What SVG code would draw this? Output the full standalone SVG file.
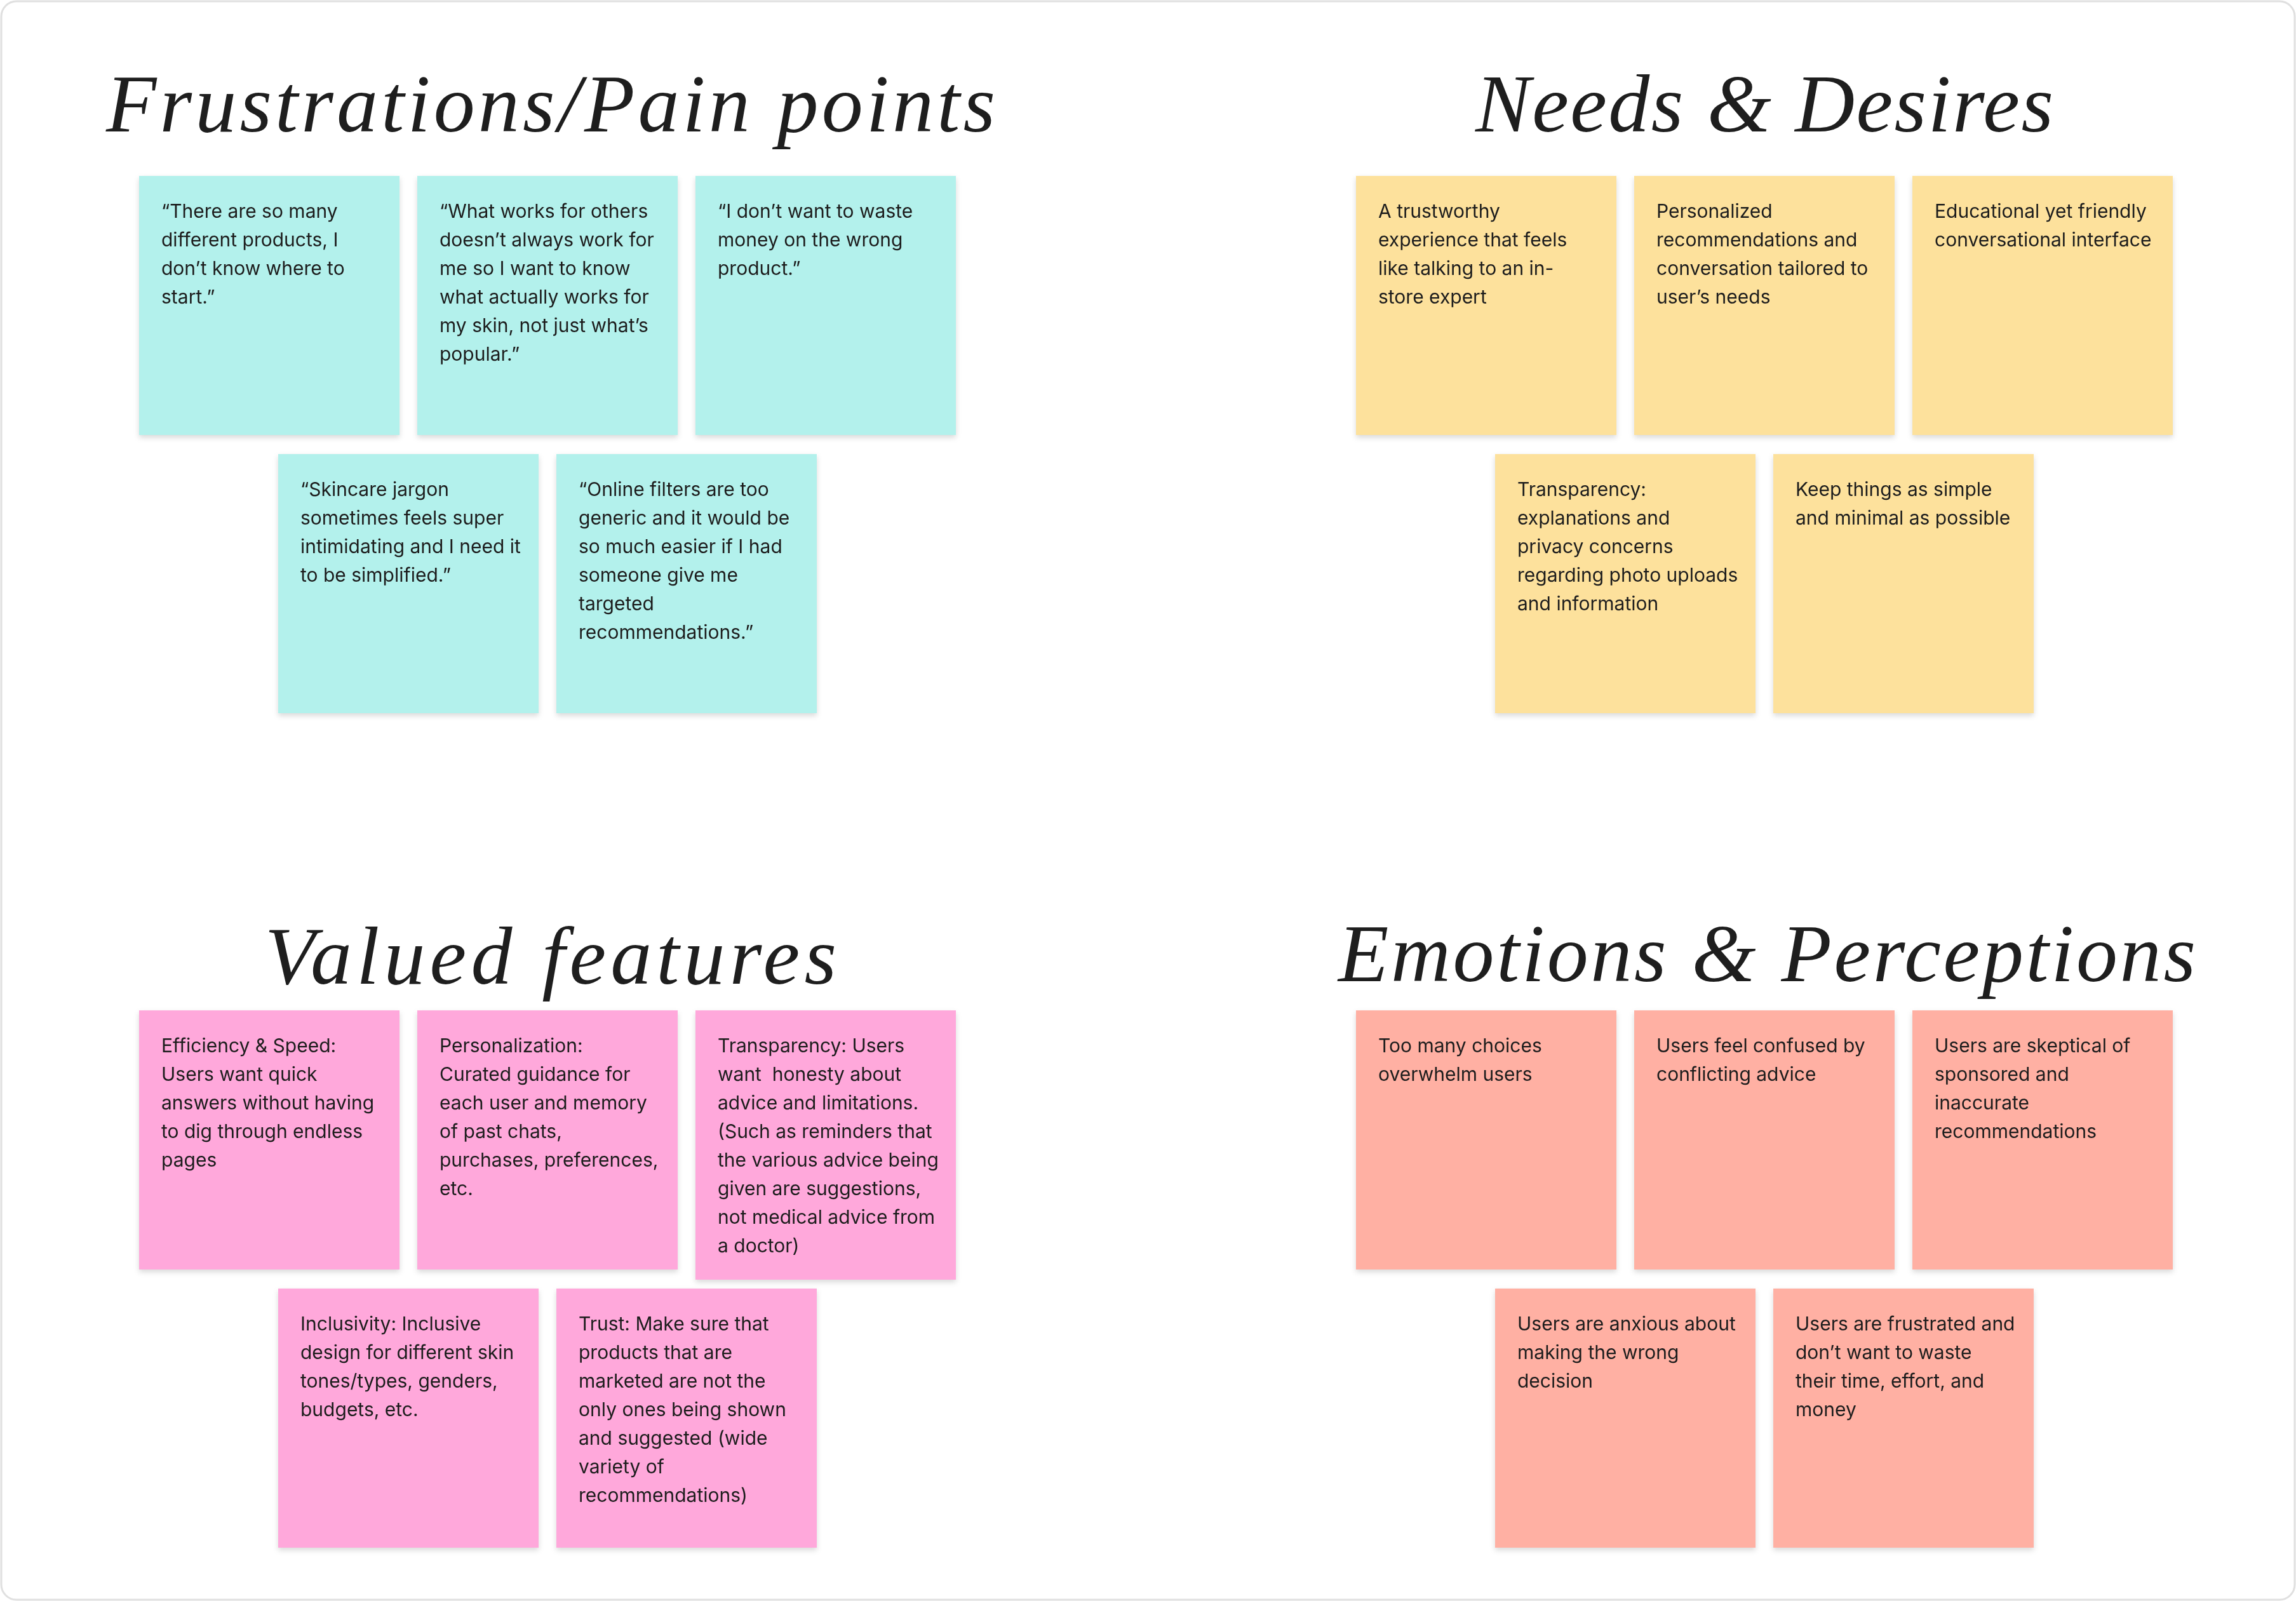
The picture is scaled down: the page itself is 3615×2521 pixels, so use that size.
<svg xmlns="http://www.w3.org/2000/svg" width="3615" height="2521" viewBox="0 0 3615 2521">
<style>
.t{font-family:Inter,"Noto Sans",sans-serif;font-size:30px;fill:#1e1e1e}
.h{font-family:"Liberation Serif",serif;font-style:italic;font-size:130px;fill:#1e1e1e}
.c{fill:#b3f1ec}.y{fill:#fde19c}.p{fill:#ffa8db}.s{fill:#ffb0a3}
</style>
<defs><filter id="sh" x="-5%" y="-5%" width="110%" height="115%"><feDropShadow dx="0" dy="4" stdDeviation="4" flood-color="#000" flood-opacity="0.15"/></filter></defs>
<rect x="2" y="2" width="3611" height="2517" rx="24" fill="#fff" stroke="#e0e0e0" stroke-width="3"/>
<text class="h" x="867" y="207" text-anchor="middle" textLength="1400">Frustrations/Pain points</text>
<text class="h" x="2778" y="207" text-anchor="middle" textLength="910">Needs &amp; Desires</text>
<text class="h" x="867" y="1549" text-anchor="middle" textLength="900">Valued features</text>
<text class="h" x="2782" y="1545" text-anchor="middle" textLength="1350">Emotions &amp; Perceptions</text>
<g filter="url(#sh)">
<g id="f1"><rect class="c" x="219" y="277" width="410" height="408"/><text class="t" x="254" y="343"><tspan x="254">“There are so many</tspan><tspan x="254" dy="45">different products, I</tspan><tspan x="254" dy="45">don’t know where to</tspan><tspan x="254" dy="45">start.”</tspan></text></g>
<g id="f2"><rect class="c" x="657" y="277" width="410" height="408"/><text class="t" x="692" y="343"><tspan x="692">“What works for others</tspan><tspan x="692" dy="45">doesn’t always work for</tspan><tspan x="692" dy="45">me so I want to know</tspan><tspan x="692" dy="45">what actually works for</tspan><tspan x="692" dy="45">my skin, not just what’s</tspan><tspan x="692" dy="45">popular.”</tspan></text></g>
<g id="f3"><rect class="c" x="1095" y="277" width="410" height="408"/><text class="t" x="1130" y="343"><tspan x="1130">“I don’t want to waste</tspan><tspan x="1130" dy="45">money on the wrong</tspan><tspan x="1130" dy="45">product.”</tspan></text></g>
<g id="f4"><rect class="c" x="438" y="715" width="410" height="408"/><text class="t" x="473" y="781"><tspan x="473">“Skincare jargon</tspan><tspan x="473" dy="45">sometimes feels super</tspan><tspan x="473" dy="45">intimidating and I need it</tspan><tspan x="473" dy="45">to be simplified.”</tspan></text></g>
<g id="f5"><rect class="c" x="876" y="715" width="410" height="408"/><text class="t" x="911" y="781"><tspan x="911">“Online filters are too</tspan><tspan x="911" dy="45">generic and it would be</tspan><tspan x="911" dy="45">so much easier if I had</tspan><tspan x="911" dy="45">someone give me</tspan><tspan x="911" dy="45">targeted</tspan><tspan x="911" dy="45">recommendations.”</tspan></text></g>
<g id="n1"><rect class="y" x="2135" y="277" width="410" height="408"/><text class="t" x="2170" y="343"><tspan x="2170">A trustworthy</tspan><tspan x="2170" dy="45">experience that feels</tspan><tspan x="2170" dy="45">like talking to an in-</tspan><tspan x="2170" dy="45">store expert</tspan></text></g>
<g id="n2"><rect class="y" x="2573" y="277" width="410" height="408"/><text class="t" x="2608" y="343"><tspan x="2608">Personalized</tspan><tspan x="2608" dy="45">recommendations and</tspan><tspan x="2608" dy="45">conversation tailored to</tspan><tspan x="2608" dy="45">user’s needs</tspan></text></g>
<g id="n3"><rect class="y" x="3011" y="277" width="410" height="408"/><text class="t" x="3046" y="343"><tspan x="3046">Educational yet friendly</tspan><tspan x="3046" dy="45">conversational interface</tspan></text></g>
<g id="n4"><rect class="y" x="2354" y="715" width="410" height="408"/><text class="t" x="2389" y="781"><tspan x="2389">Transparency:</tspan><tspan x="2389" dy="45">explanations and</tspan><tspan x="2389" dy="45">privacy concerns</tspan><tspan x="2389" dy="45">regarding photo uploads</tspan><tspan x="2389" dy="45">and information</tspan></text></g>
<g id="n5"><rect class="y" x="2792" y="715" width="410" height="408"/><text class="t" x="2827" y="781"><tspan x="2827">Keep things as simple</tspan><tspan x="2827" dy="45">and minimal as possible</tspan></text></g>
<g id="v1"><rect class="p" x="219" y="1591" width="410" height="408"/><text class="t" x="254" y="1657"><tspan x="254">Efficiency &amp; Speed:</tspan><tspan x="254" dy="45">Users want quick</tspan><tspan x="254" dy="45">answers without having</tspan><tspan x="254" dy="45">to dig through endless</tspan><tspan x="254" dy="45">pages</tspan></text></g>
<g id="v2"><rect class="p" x="657" y="1591" width="410" height="408"/><text class="t" x="692" y="1657"><tspan x="692">Personalization:</tspan><tspan x="692" dy="45">Curated guidance for</tspan><tspan x="692" dy="45">each user and memory</tspan><tspan x="692" dy="45">of past chats,</tspan><tspan x="692" dy="45">purchases, preferences,</tspan><tspan x="692" dy="45">etc.</tspan></text></g>
<g id="v3"><rect class="p" x="1095" y="1591" width="410" height="424"/><text class="t" x="1130" y="1657"><tspan x="1130">Transparency: Users</tspan><tspan x="1130" dy="45" xml:space="preserve">want  honesty about</tspan><tspan x="1130" dy="45">advice and limitations.</tspan><tspan x="1130" dy="45">(Such as reminders that</tspan><tspan x="1130" dy="45">the various advice being</tspan><tspan x="1130" dy="45">given are suggestions,</tspan><tspan x="1130" dy="45">not medical advice from</tspan><tspan x="1130" dy="45">a doctor)</tspan></text></g>
<g id="v4"><rect class="p" x="438" y="2029" width="410" height="408"/><text class="t" x="473" y="2095"><tspan x="473">Inclusivity: Inclusive</tspan><tspan x="473" dy="45">design for different skin</tspan><tspan x="473" dy="45">tones/types, genders,</tspan><tspan x="473" dy="45">budgets, etc.</tspan></text></g>
<g id="v5"><rect class="p" x="876" y="2029" width="410" height="408"/><text class="t" x="911" y="2095"><tspan x="911">Trust: Make sure that</tspan><tspan x="911" dy="45">products that are</tspan><tspan x="911" dy="45">marketed are not the</tspan><tspan x="911" dy="45">only ones being shown</tspan><tspan x="911" dy="45">and suggested (wide</tspan><tspan x="911" dy="45">variety of</tspan><tspan x="911" dy="45">recommendations)</tspan></text></g>
<g id="e1"><rect class="s" x="2135" y="1591" width="410" height="408"/><text class="t" x="2170" y="1657"><tspan x="2170">Too many choices</tspan><tspan x="2170" dy="45">overwhelm users</tspan></text></g>
<g id="e2"><rect class="s" x="2573" y="1591" width="410" height="408"/><text class="t" x="2608" y="1657"><tspan x="2608">Users feel confused by</tspan><tspan x="2608" dy="45">conflicting advice</tspan></text></g>
<g id="e3"><rect class="s" x="3011" y="1591" width="410" height="408"/><text class="t" x="3046" y="1657"><tspan x="3046">Users are skeptical of</tspan><tspan x="3046" dy="45">sponsored and</tspan><tspan x="3046" dy="45">inaccurate</tspan><tspan x="3046" dy="45">recommendations</tspan></text></g>
<g id="e4"><rect class="s" x="2354" y="2029" width="410" height="408"/><text class="t" x="2389" y="2095"><tspan x="2389">Users are anxious about</tspan><tspan x="2389" dy="45">making the wrong</tspan><tspan x="2389" dy="45">decision</tspan></text></g>
<g id="e5"><rect class="s" x="2792" y="2029" width="410" height="408"/><text class="t" x="2827" y="2095"><tspan x="2827">Users are frustrated and</tspan><tspan x="2827" dy="45">don’t want to waste</tspan><tspan x="2827" dy="45">their time, effort, and</tspan><tspan x="2827" dy="45">money</tspan></text></g>
</g>
<g id="connectors"/>
</svg>
